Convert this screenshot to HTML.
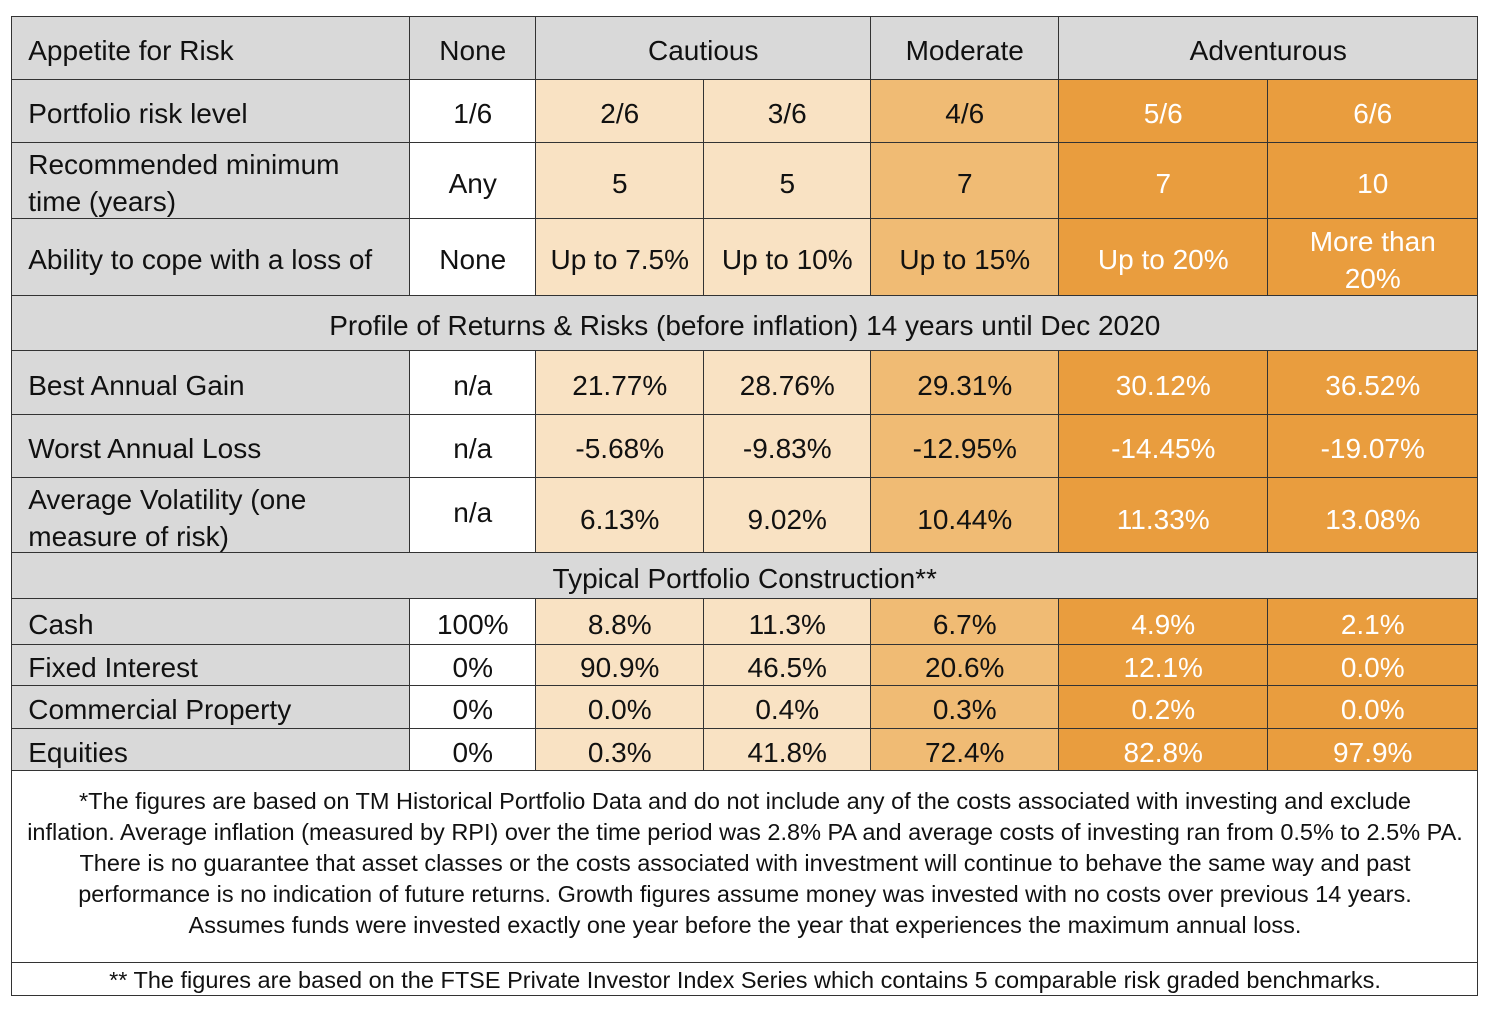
<!DOCTYPE html>
<html><head><meta charset="utf-8"><style>
body{margin:0;width:1495px;height:1012px;background:#fff;position:relative;overflow:hidden;font-family:"Liberation Sans",sans-serif;}
.c{position:absolute;box-sizing:border-box;border:1.5px solid #333;display:flex;align-items:center;justify-content:center;text-align:center;font-size:28px;line-height:37px;color:#111;margin:-0.75px 0 0 -0.75px;padding-top:5px;}
.l{justify-content:flex-start;text-align:left;padding-left:16px;}
.g{background:#d9d9d9}.w{background:#fff}.p{background:#f9e2c3}.m{background:#f0bb74}.d{background:#e99d3e;color:#fff}
.fn{position:absolute;left:12px;width:1466px;text-align:center;font-size:23.5px;white-space:nowrap;color:#111;}
</style></head><body>
<div>
<div class="c l g" style="left:12px;top:17px;width:399px;height:64px">Appetite for Risk</div>
<div class="c g" style="left:410px;top:17px;width:127px;height:64px">None</div>
<div class="c g" style="left:536px;top:17px;width:336px;height:64px">Cautious</div>
<div class="c g" style="left:871px;top:17px;width:189px;height:64px">Moderate</div>
<div class="c g" style="left:1059px;top:17px;width:420px;height:64px">Adventurous</div>
<div class="c l g" style="left:12px;top:80px;width:399px;height:64px">Portfolio risk level</div>
<div class="c w" style="left:410px;top:80px;width:127px;height:64px">1/6</div>
<div class="c p" style="left:536px;top:80px;width:169px;height:64px">2/6</div>
<div class="c p" style="left:704px;top:80px;width:168px;height:64px">3/6</div>
<div class="c m" style="left:871px;top:80px;width:189px;height:64px">4/6</div>
<div class="c d" style="left:1059px;top:80px;width:210px;height:64px">5/6</div>
<div class="c d" style="left:1268px;top:80px;width:211px;height:64px">6/6</div>
<div class="c l g" style="left:12px;top:143px;width:399px;height:77px">Recommended minimum<br>time (years)</div>
<div class="c w" style="left:410px;top:143px;width:127px;height:77px">Any</div>
<div class="c p" style="left:536px;top:143px;width:169px;height:77px">5</div>
<div class="c p" style="left:704px;top:143px;width:168px;height:77px">5</div>
<div class="c m" style="left:871px;top:143px;width:189px;height:77px">7</div>
<div class="c d" style="left:1059px;top:143px;width:210px;height:77px">7</div>
<div class="c d" style="left:1268px;top:143px;width:211px;height:77px">10</div>
<div class="c l g" style="left:12px;top:219px;width:399px;height:78px">Ability to cope with a loss of</div>
<div class="c w" style="left:410px;top:219px;width:127px;height:78px">None</div>
<div class="c p" style="left:536px;top:219px;width:169px;height:78px">Up to 7.5%</div>
<div class="c p" style="left:704px;top:219px;width:168px;height:78px">Up to 10%</div>
<div class="c m" style="left:871px;top:219px;width:189px;height:78px">Up to 15%</div>
<div class="c d" style="left:1059px;top:219px;width:210px;height:78px">Up to 20%</div>
<div class="c d" style="left:1268px;top:219px;width:211px;height:78px">More than<br>20%</div>
<div class="c g" style="left:12px;top:296px;width:1467px;height:56px">Profile of Returns &amp; Risks (before inflation) 14 years until Dec 2020</div>
<div class="c l g" style="left:12px;top:351px;width:399px;height:65px">Best Annual Gain</div>
<div class="c w" style="left:410px;top:351px;width:127px;height:65px">n/a</div>
<div class="c p" style="left:536px;top:351px;width:169px;height:65px">21.77%</div>
<div class="c p" style="left:704px;top:351px;width:168px;height:65px">28.76%</div>
<div class="c m" style="left:871px;top:351px;width:189px;height:65px">29.31%</div>
<div class="c d" style="left:1059px;top:351px;width:210px;height:65px">30.12%</div>
<div class="c d" style="left:1268px;top:351px;width:211px;height:65px">36.52%</div>
<div class="c l g" style="left:12px;top:415px;width:399px;height:64px">Worst Annual Loss</div>
<div class="c w" style="left:410px;top:415px;width:127px;height:64px">n/a</div>
<div class="c p" style="left:536px;top:415px;width:169px;height:64px">-5.68%</div>
<div class="c p" style="left:704px;top:415px;width:168px;height:64px">-9.83%</div>
<div class="c m" style="left:871px;top:415px;width:189px;height:64px">-12.95%</div>
<div class="c d" style="left:1059px;top:415px;width:210px;height:64px">-14.45%</div>
<div class="c d" style="left:1268px;top:415px;width:211px;height:64px">-19.07%</div>
<div class="c l g" style="left:12px;top:478px;width:399px;height:76px">Average Volatility (one<br>measure of risk)</div>
<div class="c w" style="left:410px;top:478px;width:127px;height:76px;align-items:flex-start;padding-top:16px">n/a</div>
<div class="c p" style="left:536px;top:478px;width:169px;height:76px;padding-top:9px">6.13%</div>
<div class="c p" style="left:704px;top:478px;width:168px;height:76px;padding-top:9px">9.02%</div>
<div class="c m" style="left:871px;top:478px;width:189px;height:76px;padding-top:9px">10.44%</div>
<div class="c d" style="left:1059px;top:478px;width:210px;height:76px;padding-top:9px">11.33%</div>
<div class="c d" style="left:1268px;top:478px;width:211px;height:76px;padding-top:9px">13.08%</div>
<div class="c g" style="left:12px;top:553px;width:1467px;height:47px">Typical Portfolio Construction**</div>
<div class="c l g" style="left:12px;top:599px;width:399px;height:47px">Cash</div>
<div class="c w" style="left:410px;top:599px;width:127px;height:47px">100%</div>
<div class="c p" style="left:536px;top:599px;width:169px;height:47px">8.8%</div>
<div class="c p" style="left:704px;top:599px;width:168px;height:47px">11.3%</div>
<div class="c m" style="left:871px;top:599px;width:189px;height:47px">6.7%</div>
<div class="c d" style="left:1059px;top:599px;width:210px;height:47px">4.9%</div>
<div class="c d" style="left:1268px;top:599px;width:211px;height:47px">2.1%</div>
<div class="c l g" style="left:12px;top:645px;width:399px;height:42px">Fixed Interest</div>
<div class="c w" style="left:410px;top:645px;width:127px;height:42px">0%</div>
<div class="c p" style="left:536px;top:645px;width:169px;height:42px">90.9%</div>
<div class="c p" style="left:704px;top:645px;width:168px;height:42px">46.5%</div>
<div class="c m" style="left:871px;top:645px;width:189px;height:42px">20.6%</div>
<div class="c d" style="left:1059px;top:645px;width:210px;height:42px">12.1%</div>
<div class="c d" style="left:1268px;top:645px;width:211px;height:42px">0.0%</div>
<div class="c l g" style="left:12px;top:686px;width:399px;height:44px">Commercial Property</div>
<div class="c w" style="left:410px;top:686px;width:127px;height:44px">0%</div>
<div class="c p" style="left:536px;top:686px;width:169px;height:44px">0.0%</div>
<div class="c p" style="left:704px;top:686px;width:168px;height:44px">0.4%</div>
<div class="c m" style="left:871px;top:686px;width:189px;height:44px">0.3%</div>
<div class="c d" style="left:1059px;top:686px;width:210px;height:44px">0.2%</div>
<div class="c d" style="left:1268px;top:686px;width:211px;height:44px">0.0%</div>
<div class="c l g" style="left:12px;top:729px;width:399px;height:43px">Equities</div>
<div class="c w" style="left:410px;top:729px;width:127px;height:43px">0%</div>
<div class="c p" style="left:536px;top:729px;width:169px;height:43px">0.3%</div>
<div class="c p" style="left:704px;top:729px;width:168px;height:43px">41.8%</div>
<div class="c m" style="left:871px;top:729px;width:189px;height:43px">72.4%</div>
<div class="c d" style="left:1059px;top:729px;width:210px;height:43px">82.8%</div>
<div class="c d" style="left:1268px;top:729px;width:211px;height:43px">97.9%</div>
<div class="c w" style="left:12px;top:771px;width:1467px;height:193px"></div>
<div class="c w" style="left:12px;top:963px;width:1467px;height:34px"></div>
</div>
<div>
<div class="fn" style="top:788px">*The figures are based on TM Historical Portfolio Data and do not include any of the costs associated with investing and exclude</div>
<div class="fn" style="top:819px">inflation. Average inflation (measured by RPI) over the time period was 2.8% PA and average costs of investing ran from 0.5% to 2.5% PA.</div>
<div class="fn" style="top:850px">There is no guarantee that asset classes or the costs associated with investment will continue to behave the same way and past</div>
<div class="fn" style="top:881px">performance is no indication of future returns. Growth figures assume money was invested with no costs over previous 14 years.</div>
<div class="fn" style="top:912px">Assumes funds were invested exactly one year before the year that experiences the maximum annual loss.</div>
<div class="fn" style="top:967px">** The figures are based on the FTSE Private Investor Index Series which contains 5 comparable risk graded benchmarks.</div>
</div>
</body></html>
